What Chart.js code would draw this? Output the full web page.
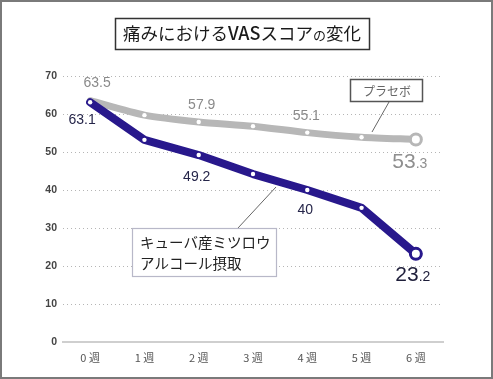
<!DOCTYPE html>
<html><head><meta charset="utf-8">
<script src="https://cdn.jsdelivr.net/npm/chart.js@4.4.1/dist/chart.umd.min.js"></script>
<style>html,body{margin:0;padding:0;background:#fff}#wrap{width:493px;height:379px;position:relative}</style>
</head><body><div id="wrap"><canvas id="c"></canvas></div>
<script>
const weeks = ['0 週','1 週','2 週','3 週','4 週','5 週','6 週'];
const placebo = [63.5, 59.7, 57.9, 56.8, 55.1, 53.9, 53.3];
const beeswax = [63.1, 53.2, 49.2, 44.2, 40, 35.3, 23.2];
const yTicks = [0, 10, 20, 30, 40, 50, 60, 70];
const labeledIdx = [0, 2, 4, 6];
const titleText = ['痛みにおける', 'VAS', 'スコア', 'の', '変化'];
const placeboName = 'プラセボ';
const beeswaxName = ['キューバ産ミツロウ', 'アルコール摂取'];

const JP = '"Noto Sans CJK JP", "Noto Sans", sans-serif';
const NUM = '"Liberation Sans", Arial, sans-serif';
const PURPLE = '#28188c';
const GRAY = '#b7b7b7';

function fmt(v){ return String(v); }

const overlay = {
  id: 'overlay',
  afterDraw(chart) {
    const ctx = chart.ctx, xs = chart.scales.x, ys = chart.scales.y;
    const W = chart.width, H = chart.height;
    ctx.save();
    // outer frame
    ctx.strokeStyle = '#7a7a7a'; ctx.lineWidth = 2;
    ctx.strokeRect(1, 1, W - 2, H - 2);

    // title
    const parts = titleText.map((t, i) => ({t, font: (i === 3 ? '400 13px ' : (i === 1 ? '500 18px ' : '400 17.5px ')) + JP}));
    let tw = 0;
    parts.forEach(p => { ctx.font = p.font; p.w = ctx.measureText(p.t).width; tw += p.w; });
    const cx = (chart.chartArea.left + chart.chartArea.right) / 2 - 11;
    let tx = cx - tw / 2; const ty = 40;
    ctx.fillStyle = '#1a1a1a'; ctx.textBaseline = 'alphabetic'; ctx.textAlign = 'left';
    parts.forEach(p => { ctx.font = p.font; ctx.fillText(p.t, tx, ty); tx += p.w; });
    ctx.strokeStyle = '#333'; ctx.lineWidth = 1.5;
    ctx.strokeRect(Math.round(cx - tw / 2 - 8) + 0.5, 18.5, Math.round(tw + 16), 31);

    // data labels
    const px = i => xs.getPixelForValue(i);
    const py = v => ys.getPixelForValue(v);
    ctx.textAlign = 'center'; ctx.textBaseline = 'middle';
    const pOff = [[7, -18], null, [3, -17], null, [-1, -16], null, [-6, 21]];
    const bOff = [[-8, 18], null, [-2, 22], null, [-2, 20], null, [-3, 19]];
    function bigLabel(v, x, y, color) {
      const s = v.toFixed(1).split('.');
      const f1 = '21px ' + NUM, f2 = '14px ' + NUM;
      ctx.font = f1; const w1 = ctx.measureText(s[0]).width;
      ctx.font = f2; const w2 = ctx.measureText('.' + s[1]).width;
      const x0 = x - (w1 + w2) / 2;
      ctx.fillStyle = color; ctx.textAlign = 'left'; ctx.textBaseline = 'alphabetic';
      ctx.font = f1; ctx.fillText(s[0], x0, y + 8);
      ctx.font = f2; ctx.fillText('.' + s[1], x0 + w1, y + 8);
      ctx.textAlign = 'center'; ctx.textBaseline = 'middle';
    }
    labeledIdx.forEach(i => {
      const o = pOff[i], ob = bOff[i];
      if (i === 6) {
        bigLabel(placebo[i], px(i) + o[0], py(placebo[i]) + o[1], '#8f8f8f');
        bigLabel(beeswax[i], px(i) + ob[0], py(beeswax[i]) + ob[1], '#1e1e3a');
      } else {
        ctx.font = '14px ' + NUM;
        ctx.fillStyle = '#8a8a8a';
        ctx.fillText(fmt(placebo[i]), px(i) + o[0], py(placebo[i]) + o[1]);
        ctx.fillStyle = '#26264a';
        ctx.fillText(fmt(beeswax[i]), px(i) + ob[0], py(beeswax[i]) + ob[1]);
      }
    });

    // placebo callout
    ctx.font = '12px ' + JP;
    const pbx = 350, pby = 79, pbw = 72, pbh = 22;
    ctx.fillStyle = '#fff'; ctx.fillRect(pbx, pby, pbw, pbh);
    ctx.strokeStyle = '#555'; ctx.lineWidth = 1.5; ctx.strokeRect(pbx + 0.5, pby + 0.5, pbw, pbh);
    ctx.fillStyle = '#666'; ctx.textAlign = 'center'; ctx.textBaseline = 'middle';
    ctx.fillText(placeboName, pbx + pbw / 2 + 1, pby + pbh / 2 + 1);
    ctx.strokeStyle = '#666'; ctx.lineWidth = 1;
    ctx.beginPath(); ctx.moveTo(389, pby + pbh + 1); ctx.lineTo(372, 132); ctx.stroke();

    // beeswax callout
    ctx.strokeStyle = '#666'; ctx.lineWidth = 1;
    ctx.beginPath(); ctx.moveTo(238, 228); ctx.lineTo(276, 187); ctx.stroke();
    const bbx = 132, bby = 228, bbw = 144, bbh = 48;
    ctx.fillStyle = '#fff'; ctx.fillRect(bbx, bby, bbw, bbh);
    ctx.strokeStyle = '#b8b8c8'; ctx.lineWidth = 1.2; ctx.strokeRect(bbx + 0.5, bby + 0.5, bbw, bbh);
    ctx.fillStyle = '#222'; ctx.textAlign = 'left'; ctx.textBaseline = 'middle';
    ctx.font = '14.5px ' + JP;
    ctx.fillText(beeswaxName[0], bbx + 8, bby + 14);
    ctx.fillText(beeswaxName[1], bbx + 8, bby + 35);
    ctx.restore();
  }
};

const last = weeks.length - 1;
const radii = weeks.map((_, i) => i === last ? 5.5 : 2.2);
const bws = weeks.map((_, i) => i === last ? 3 : 0);

new Chart(document.getElementById('c'), {
  type: 'line',
  data: {
    labels: weeks,
    datasets: [
      { label: 'beeswax', data: beeswax, order: 0, borderColor: PURPLE, borderWidth: 8, tension: 0,
        borderJoinStyle: 'round', borderCapStyle: 'round',
        pointRadius: radii, pointBorderWidth: bws, pointBackgroundColor: '#fff', pointBorderColor: PURPLE, pointHoverRadius: radii },
      { label: 'placebo', data: placebo, order: 1, borderColor: GRAY, borderWidth: 7, tension: 0.25,
        borderJoinStyle: 'round', borderCapStyle: 'round',
        pointRadius: radii, pointBorderWidth: bws, pointBackgroundColor: '#fff', pointBorderColor: GRAY, pointHoverRadius: radii }
    ]
  },
  options: {
    responsive: true, maintainAspectRatio: false, animation: false,
    layout: { padding: { left: 0, right: 50, top: 76, bottom: 0 } },
    plugins: { legend: { display: false }, tooltip: { enabled: false }, title: { display: false } },
    scales: {
      x: {
        offset: true,
        grid: { display: false, drawTicks: false },
        border: { display: true, color: '#cfcfcf', width: 2 },
        ticks: { padding: 9, color: '#555', font: { family: JP, size: 11 } },
        afterFit(s) { s.height = 37; }
      },
      y: {
        min: 0, max: 70,
        afterBuildTicks(s) { s.ticks = yTicks.map(v => ({ value: v })); },
        grid: { drawTicks: false, color: '#b5b5b5', lineWidth: 1 },
        border: { display: true, color: 'rgba(0,0,0,0)', width: 0, dash: [1, 3] },
        ticks: { padding: 6, color: '#444', font: { family: NUM, size: 10.5, weight: 'bold' } },
        afterFit(s) { s.width = 63; }
      }
    }
  },
  plugins: [overlay]
});
</script></body></html>
